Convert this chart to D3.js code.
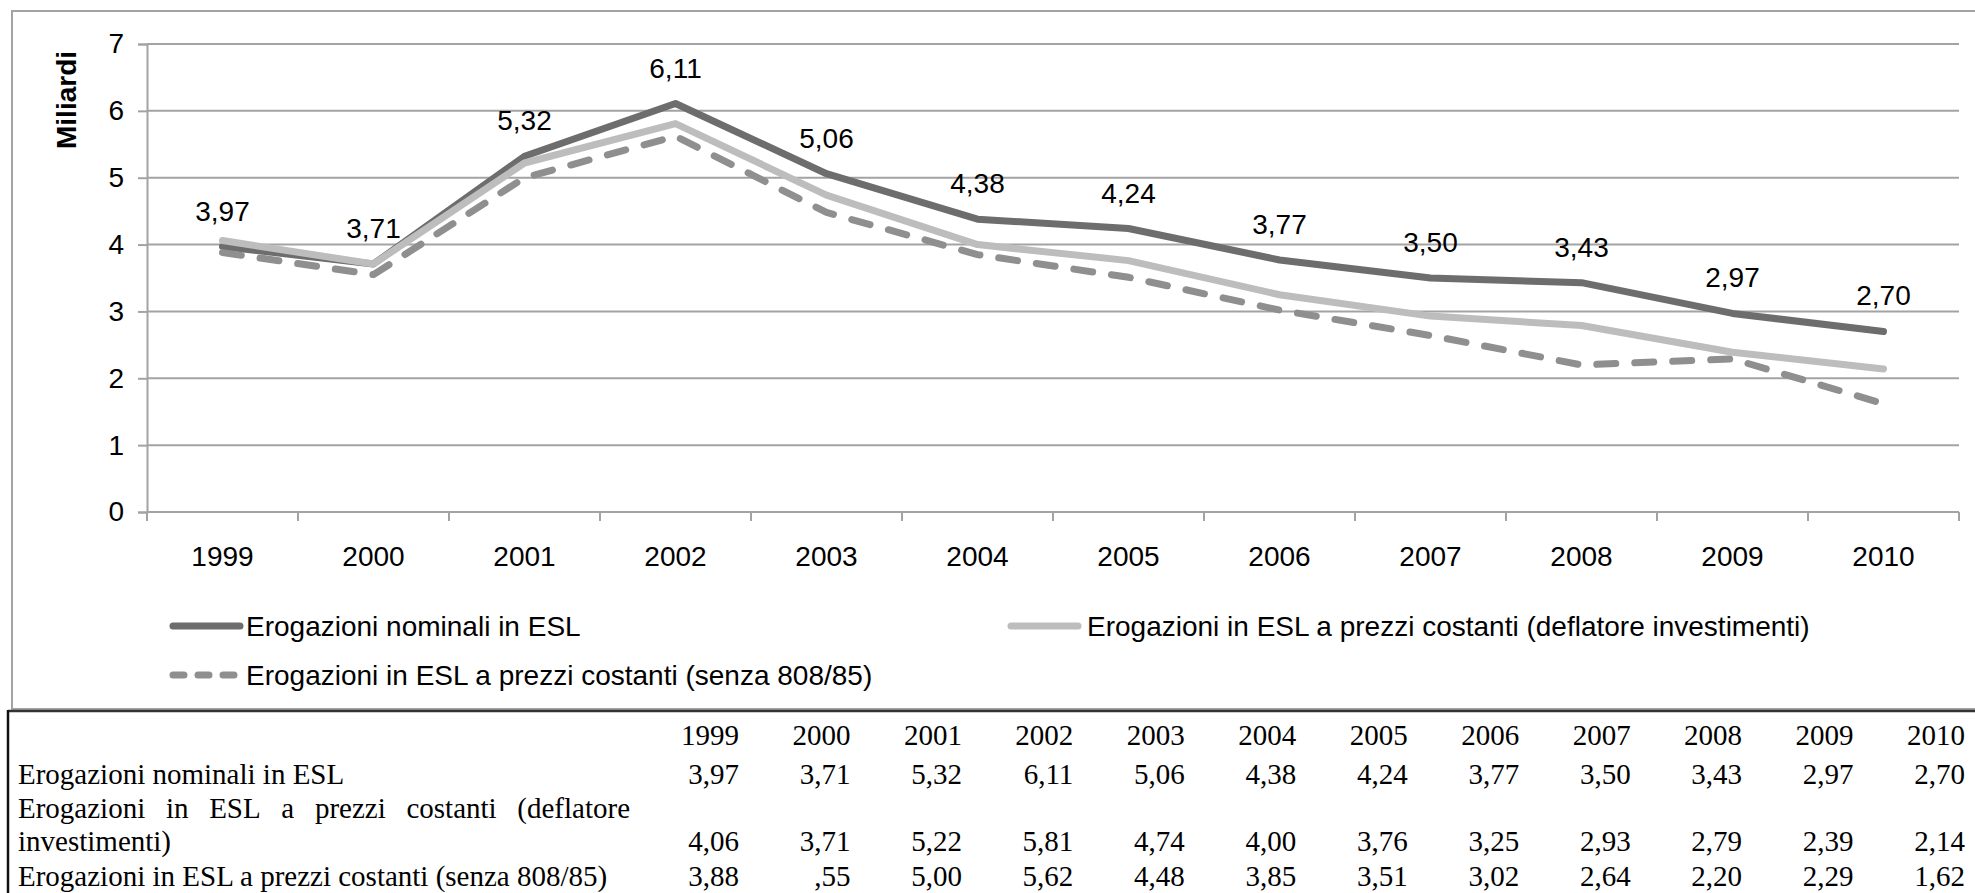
<!DOCTYPE html>
<html>
<head>
<meta charset="utf-8">
<script src="https://cdn.jsdelivr.net/npm/d3@7"></script>
<style>
    body { margin: 0; background: #fff; }
    svg { display: block; }
</style>
</head>
<body>
<div id="chart"></div>
<script>
var years = ["1999", "2000", "2001", "2002", "2003", "2004", "2005", "2006", "2007", "2008", "2009", "2010"];
var nominali = [3.97, 3.71, 5.32, 6.11, 5.06, 4.38, 4.24, 3.77, 3.50, 3.43, 2.97, 2.70];
var deflatore = [4.06, 3.71, 5.22, 5.81, 4.74, 4.00, 3.76, 3.25, 2.93, 2.79, 2.39, 2.14];
var senza808 = [3.88, 3.55, 5.00, 5.62, 4.48, 3.85, 3.51, 3.02, 2.64, 2.20, 2.29, 1.62];
var yTicks = [0, 1, 2, 3, 4, 5, 6, 7];
var seriesNames = [
    "Erogazioni nominali in ESL",
    "Erogazioni in ESL a prezzi costanti (deflatore investimenti)",
    "Erogazioni in ESL a prezzi costanti (senza 808/85)"
];
// the printed table has a typo for 2000 in the last row
var tableOverrides = { "2,1": ",55" };

function init() {
    var w = 1975;
    var h = 893;
    var sans = "'Liberation Sans', Arial, sans-serif";
    var serif = "'Liberation Serif', 'Times New Roman', serif";

    var svg = d3.select("#chart")
        .append("svg")
        .attr("width", w)
        .attr("height", h);

    // chart frame
    svg.append("rect")
        .attr("x", 12).attr("y", 11)
        .attr("width", 2000).attr("height", 698)
        .attr("fill", "none")
        .attr("stroke", "#a3a3a3")
        .attr("stroke-width", 2);

    // Scales
    var x = d3.scaleBand()
        .domain(years)
        .range([147, 1959]);
    var y = d3.scaleLinear()
        .domain([0, 7])
        .range([512, 44]);
    var cx = function (i) { return x(years[i]) + x.bandwidth() / 2; };

    // gridlines
    svg.append("g")
        .selectAll("line")
        .data(yTicks.filter(function (d) { return d > 0; }))
        .enter()
        .append("line")
        .attr("x1", 147).attr("x2", 1959)
        .attr("y1", function (d) { return y(d); })
        .attr("y2", function (d) { return y(d); })
        .attr("stroke", "#a3a3a3")
        .attr("stroke-width", 2);

    // y axis
    var yAxis = svg.append("g")
        .attr("transform", "translate(147,0)")
        .call(d3.axisLeft(y).tickValues(yTicks).tickSize(9).tickPadding(14).tickFormat(d3.format("d")));
    // x axis, ticks sit between the years
    var xAxis = svg.append("g")
        .attr("transform", "translate(0," + y(0) + ")")
        .call(d3.axisBottom(x).tickSize(0).tickPadding(34));
    svg.append("g")
        .selectAll("line")
        .data(years.concat(["end"]))
        .enter()
        .append("line")
        .attr("x1", function (d, i) { return 147 + i * x.bandwidth(); })
        .attr("x2", function (d, i) { return 147 + i * x.bandwidth(); })
        .attr("y1", y(0)).attr("y2", y(0) + 9)
        .attr("stroke", "#a3a3a3")
        .attr("stroke-width", 2);

    [yAxis, xAxis].forEach(function (g) {
        g.select(".domain").attr("stroke", "#a3a3a3").attr("stroke-width", 2);
        g.selectAll(".tick line").attr("stroke", "#a3a3a3").attr("stroke-width", 2);
        g.selectAll(".tick text")
            .attr("fill", "#000")
            .style("font-family", sans)
            .style("font-size", "28px");
    });
    xAxis.select(".domain").attr("d", "M147,0H1959");

    // y axis title
    svg.append("text")
        .attr("transform", "translate(76,100) rotate(-90)")
        .attr("text-anchor", "middle")
        .style("font-family", sans)
        .style("font-size", "28px")
        .style("font-weight", "bold")
        .text("Miliardi");

    // Lines
    var line = d3.line()
        .x(function (d, i) { return cx(i); })
        .y(function (d) { return y(d); });

    var styles = [
        { data: nominali, color: "#6d6d6d", dash: null },
        { data: deflatore, color: "#bdbdbd", dash: null },
        { data: senza808, color: "#8f8f8f", dash: "19,19" }
    ];

    styles.forEach(function (s) {
        svg.append("path")
            .datum(s.data)
            .attr("d", line)
            .attr("fill", "none")
            .attr("stroke", s.color)
            .attr("stroke-width", 7)
            .attr("stroke-linejoin", "round")
            .attr("stroke-linecap", "round")
            .attr("stroke-dasharray", s.dash);
    });

    var fmt = function (v) { return d3.format(".2f")(v).replace(".", ","); };

    // data labels on the nominal series
    svg.append("g")
        .selectAll("text")
        .data(nominali)
        .enter()
        .append("text")
        .attr("x", function (d, i) { return cx(i); })
        .attr("y", function (d) { return y(d) - 26; })
        .attr("text-anchor", "middle")
        .style("font-family", sans)
        .style("font-size", "28px")
        .text(fmt);

    // Legend
    var legend = [
        { lx: 170, ly: 626, tx: 246 },
        { lx: 1008, ly: 626, tx: 1087 },
        { lx: 170, ly: 675, tx: 246 }
    ];
    legend.forEach(function (l, i) {
        svg.append("line")
            .attr("x1", l.lx + 3).attr("x2", l.lx + 70)
            .attr("y1", l.ly).attr("y2", l.ly)
            .attr("stroke", styles[i].color)
            .attr("stroke-width", 7)
            .attr("stroke-linecap", "round")
            .attr("stroke-dasharray", i === 2 ? "11,14" : null);
        svg.append("text")
            .attr("x", l.tx)
            .attr("y", l.ly + 10)
            .style("font-family", sans)
            .style("font-size", "28px")
            .text(seriesNames[i]);
    });

    // Table under the chart
    var table = svg.append("g");
    table.append("line")
        .attr("x1", 8).attr("x2", 1975)
        .attr("y1", 711).attr("y2", 711)
        .attr("stroke", "#333")
        .attr("stroke-width", 2.5);
    table.append("line")
        .attr("x1", 8).attr("x2", 8)
        .attr("y1", 710).attr("y2", 893)
        .attr("stroke", "#111")
        .attr("stroke-width", 2.5);

    var colX = d3.scalePoint()
        .domain(years)
        .range([739, 1965]);

    var cell = function (txt, xx, yy, anchor) {
        return table.append("text")
            .attr("x", xx)
            .attr("y", yy)
            .attr("text-anchor", anchor || "end")
            .style("font-family", serif)
            .style("font-size", "29px")
            .text(txt);
    };

    years.forEach(function (yr) { cell(yr, colX(yr), 745); });

    var rows = [nominali, deflatore, senza808];
    var rowY = [784, 851, 886];
    rows.forEach(function (vals, r) {
        vals.forEach(function (v, i) {
            var key = r + "," + i;
            cell(tableOverrides[key] || fmt(v), colX(years[i]), rowY[r]);
        });
    });

    cell(seriesNames[0], 18, 784, "start");
    var last = cell(seriesNames[2], 18, 886, "start");
    var right = Math.max(630, 18 + last.node().getComputedTextLength());

    // justified first line of the wrapped label
    var words = "Erogazioni in ESL a prezzi costanti (deflatore".split(" ");
    var t = cell("", 18, 818, "start");
    var spans = words.map(function (wd) { return t.append("tspan").text(wd); });
    var widths = spans.map(function (s) { return s.node().getComputedTextLength(); });
    var gap = (right - 18 - d3.sum(widths)) / (words.length - 1);
    var pos = 18;
    spans.forEach(function (s, i) {
        s.attr("x", pos);
        pos += widths[i] + gap;
    });
    cell("investimenti)", 18, 851, "start");
}

window.onload = init;
</script>
</body>
</html>
